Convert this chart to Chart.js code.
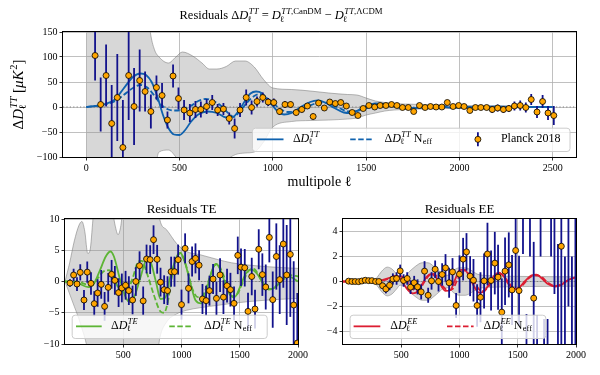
<!DOCTYPE html>
<html>
<head>
<meta charset="utf-8">
<script src="https://cdn.jsdelivr.net/npm/chart.js@4"></script>
<style>
  html, body { margin: 0; background: #fff; }
  #wrap { position: relative; width: 600px; height: 375px; overflow: hidden; background: #fff; }
  canvas { position: absolute; }
</style>
</head>
<body>
<div id="wrap">
  <canvas id="tt" width="600" height="200" style="left:0;top:0"></canvas>
  <canvas id="te" width="330" height="175" style="left:0;top:200px"></canvas>
  <canvas id="ee" width="300" height="175" style="left:300px;top:200px"></canvas>
</div>
<script>
// ---- TT residuals (Planck 2018 bins) ----
const ttEll = [47, 77, 106, 136, 166, 196, 227, 256, 286, 315, 346, 376, 406, 435, 465, 494, 524, 555, 585, 614,
  645, 675, 704, 735, 766, 795, 824, 857, 886, 915, 946, 975, 1005, 1036, 1065, 1095, 1125, 1155, 1185, 1216,
  1245, 1276, 1305, 1335, 1364, 1394, 1425, 1456, 1484, 1515, 1546, 1575, 1606, 1636, 1665, 1695, 1726, 1755, 1786, 1816,
  1845, 1875, 1906, 1935, 1966, 1996, 2025, 2056, 2086, 2115, 2146, 2176, 2205, 2236, 2265, 2295, 2326, 2356, 2385, 2416,
  2446, 2475, 2506];
const ttVal = [103, 5, 63, -33, 19, -81, 63, 1, 53, 31, -9, 39, 23, -26, 62, 17, -6, -12, -5, -5,
  1, 9, -6, -4, -23, -43, -6, 19, -1, 11, 19, 10, 9, -9, 5, 5, -11, -5, 2, -19,
  8, -2, 10, 7, 9, 2, -11, -17, -3, 3, 0, 3, 3, 5, 3, -1, -1, -9, 3, -1,
  1, 0, 0, 9, 1, 3, 1, -7, -1, -1, -1, -5, -2, -5, -3, 2, 3, -1, 15, -10,
  11, -12, -17];
const ttErr = [50, 54, 62, 77, 87, 95, 89, 77, 62, 40, 34, 24, 25, 17, 23, 22, 20, 18, 17, 16,
  15, 15, 12, 12, 12, 20, 14, 16, 14, 10, 10, 8, 8, 7, 7, 6, 6, 6, 5, 6,
  5, 5, 5, 5, 5, 5, 5, 5, 5, 5, 4, 4, 4, 4, 4, 4, 4, 4, 4, 4,
  4, 4, 4, 4, 4, 4, 4, 5, 5, 5, 5, 7, 7, 7, 7, 9, 10, 10, 11, 12,
  13, 14, 19];

const ttCurveEll = [0, 50, 100, 150, 200, 250, 290, 320, 350, 380, 410, 440, 470, 500, 530, 560, 600, 650, 700, 750,
  790, 820, 850, 880, 910, 940, 970, 1000, 1030, 1060, 1100, 1150, 1200, 1240, 1280, 1330, 1380, 1420, 1460, 1500,
  1550, 1600, 1650, 1700, 1750, 1800, 1850, 1900, 1950, 2000, 2100, 2200, 2300, 2400, 2500];
const ttSolid = [0, 2, 6, 14, 37, 60, 67, 64, 50, 22, -15, -42, -55, -56, -46, -30, -15, -9, -12, -21,
  -19, -6, 12, 27, 31, 28, 15, 2, -10, -15, -12, 0, 10, 13, 9, -2, -11, -12, -6, 2,
  7, 6, 1, -3, -3, 0, 2, 1, -1, -1, 0, 1, 0, 0, 0];
const ttDashEll = [0, 50, 100, 150, 200, 250, 290, 330, 370, 400, 440, 480, 520, 560, 600, 640, 680, 720, 760, 790,
  820, 860, 900, 930, 960, 1000, 1040, 1080, 1120, 1170, 1220, 1270, 1310, 1360, 1410, 1450, 1500, 1550, 1600, 1650,
  1700, 1750, 1800, 1850, 1900, 2000, 2100, 2200, 2300, 2400, 2500];
const ttDashed = [0, 2, 5, 11, 24, 38, 44, 38, 20, 5, -5, -7, -5, 2, 12, 16, 12, 3, -12, -20,
  -10, 8, 22, 26, 20, 8, -4, -10, -9, -2, 6, 9, 6, -3, -9, -8, -3, 3, 5, 3,
  0, -2, -1, 1, 1, 0, 0, 0, 0, 0, 0];

const ttBandEll = [0, 300, 343, 365, 390, 440, 480, 515, 570, 620, 660, 700, 750, 800, 850, 900, 950, 1000, 1100, 1200,
  1300, 1400, 1450, 1500, 1550, 1600, 1650, 1700, 1800, 1900, 2000, 2200, 2400, 2500];
const ttBandUp = [400, 300, 150, 115, 100, 88, 100, 110, 102, 88, 76, 76, 81, 92, 92, 80, 55, 38, 35, 32,
  28, 25, 24, 18, 12, 9, 7, 6, 5, 4, 3, 2, 1, 0.5];
const ttBandLo = [-400, -400, -300, -150, -90, -86, -100, -120, -125, -120, -115, -112, -105, -95, -92, -90, -70, -40, -29, -27,
  -26, -24, -22, -16, -12, -8, -6, -5, -4, -3, -3, -2, -1, -0.5];

// ---- TE residuals ----
const teEll = [43, 74, 103, 131, 163, 191, 223, 251, 280, 311, 340, 371, 400, 428, 460, 488, 520, 548, 580, 608,
  640, 671, 700, 731, 760, 791, 820, 851, 880, 911, 940, 971, 1000, 1031, 1060, 1091, 1120, 1151, 1180, 1211,
  1240, 1271, 1300, 1331, 1360, 1391, 1420, 1451, 1483, 1511, 1543, 1571, 1603, 1631, 1663, 1694, 1723, 1754, 1783, 1814,
  1843, 1874, 1903, 1934, 1963, 1994];
const teVal = [-0.25, 1.04, -0.4, 1.46, -2.96, 1.5, -0.3, -3.55, -1.84, -0.46, -3.98, -0.94, 1.15, 0.18, -1.78, -1.03, -0.6, -1.46, -2.96, 0.0,
  2.53, -3.1, 3.6, 3.5, 6.69, 3.55, -0.1, -1.31, -1.46, 1.57, 1.57, 3.5, -3.7, 5.3, -1.09, 3.2, 3.7, 2.6, -2.8, -3.06,
  -1.46, 0.4, -2.7, 1.04, -2.5, -0.67, -1.31, -3.5, 4.18, 2.3, 2.2, -4.78, 0.8, -4.4, 5.16, 1.1, -0.88, 7.06, -2.9, 4.0,
  0.3, 6.0, 1.04, 4.34, -3.76, -9.85];
const teErr = [0.6, 1.0, 1.1, 1.3, 1.6, 1.7, 1.8, 2.0, 2.2, 2.3, 2.3, 2.3, 2.3, 2.3, 2.3, 2.3, 2.3, 2.3, 2.3, 2.3,
  2.3, 2.3, 2.3, 2.3, 2.3, 2.3, 2.3, 2.3, 2.3, 2.4, 2.4, 2.4, 2.4, 2.4, 2.4, 2.4, 2.4, 2.4, 2.4, 2.4,
  2.4, 2.4, 2.7, 2.7, 2.7, 2.7, 2.7, 2.7, 3.0, 3.0, 3.0, 3.0, 3.0, 3.1, 3.2, 3.4, 3.6, 4.0, 4.5, 5.3,
  5.5, 7, 8, 10, 7, 8];

const teCurveEll = [0, 100, 200, 250, 300, 350, 390, 420, 470, 520, 560, 600, 650, 700, 730, 780, 820, 860, 900, 950,
  990, 1030, 1080, 1120, 1170, 1220, 1270, 1300, 1330, 1380, 1420, 1460, 1500, 1550, 1600, 1650, 1700, 1750, 1800, 1850,
  1900, 1950, 2000];
const teSolid = [0, -0.2, -0.9, -0.3, 1.8, 4, 4.8, 4, 0.5, -2.5, -3.3, -2.2, 0.8, 3.5, 3.3, 0, -2.8, -2.6, 0.5, 3.5,
  4.6, 3, -0.5, -3, -3.5, -1, 2.2, 2.8, 2.0, -0.5, -2.2, -2.4, -1, 1.2, 1.9, 1.2, -0.3, -1.3, -1, 0,
  0.8, 0.6, 0];
const teDashEll = [0, 100, 200, 280, 330, 380, 430, 480, 530, 580, 630, 660, 700, 760, 820, 850, 880, 920, 960, 990,
  1040, 1090, 1140, 1180, 1230, 1280, 1310, 1350, 1400, 1440, 1480, 1530, 1580, 1620, 1670, 1720, 1770, 1820, 1880, 1940,
  2000];
const teDashed = [0, 0, -0.5, 0.5, 1.6, 1.8, 0, -1.5, -1.5, 0.5, 3.2, 3.3, 1.5, -2, -4.8, -5, -3.5, 1, 4, 4.5,
  2.5, -1, -2.5, -2.3, 0, 2.5, 2.8, 1.5, -1, -2.5, -2, 0, 1.8, 2, 0.8, -0.8, -1.2, -0.6, 0.4, 1,
  0.8];

const teBandEll = [0, 40, 80, 120, 145, 170, 195, 215, 240, 260, 340, 400, 430, 455, 480, 510, 790, 814, 871, 957,
  1043, 1157, 1314, 1428, 1714, 2000];
const teBandUp = [0, 3, 6.5, 9, 9.6, 8, 4.5, 5, 10, 14, 14, 12, 9, 7.5, 9, 14, 14, 9.9, 8.3, 6.1,
  4.8, 4.3, 3.5, 3.0, 2.4, 2.1];
const teBandLo = [0, -2, -4, -6, -7.5, -9, -11, -13, -14, -14, -14, -14, -14, -14, -14, -14, -12, -9, -6.5, -5.2,
  -4.6, -4.2, -3.8, -3.5, -3.0, -2.7];

// ---- EE residuals ----
const eeEll = [48, 77, 105, 134, 162, 191, 220, 248, 280, 308, 340, 368, 400, 428, 460, 491, 520, 551, 580, 611,
  640, 671, 700, 731, 760, 791, 820, 851, 880, 911, 940, 971, 1000, 1031, 1060, 1091, 1120, 1151, 1180, 1211,
  1240, 1271, 1303, 1331, 1363, 1391, 1423, 1451, 1482, 1511, 1545, 1575, 1605, 1637, 1666, 1696, 1726, 1756, 1786, 1815,
  1845, 1874, 1905, 1935, 1965, 1995];
const eeVal = [0.03, 0, 0, -0.01, 0.04, 0.1, 0.07, 0.07, 0, 0, -0.34, -0.6, -0.3, 0.2, 0.24, 0.85, 0.08, 0.24, -0.45, -0.1,
  -0.43, -0.83, 0.83, -1.1, 0.05, 0.98, 0, 0.56, 1.09, -0.1, 0.77, -1.92, 0.59, 1.79, 2.37, 0.43, 0.1, -1.92, -1.26, 0.05,
  2.2, 0.08, 1.47, 0.35, -2.45, 0.83, 1.33, -0.67, 2.48, -0.73, 5.6, -6.2, 6.0, -1.33, -7.5, 7.0, -8.5, -9.0, 8.5, 7.0,
  -6.0, 2.82, -8.0, 9.0, -10, 7.0];
const eeErr = [0.03, 0.03, 0.04, 0.04, 0.05, 0.05, 0.06, 0.08, 0.1, 0.15, 0.25, 0.35, 0.4, 0.45, 0.5, 0.5, 0.5, 0.5, 0.55, 0.55,
  0.6, 0.6, 0.8, 0.6, 0.7, 0.7, 0.8, 0.9, 1.1, 1.2, 1.1, 1.0, 1.5, 1.7, 1.5, 1.6, 1.7, 1.7, 2.0, 2.2,
  2.5, 2.4, 2.5, 2.6, 2.7, 2.7, 2.6, 2.8, 3.0, 2.8, 3.4, 3.6, 4.0, 4.5, 4.8, 5.0, 5.5, 6.0, 6.5, 8.0,
  9.0, 8.0, 10, 11, 12, 13];

const eeCurveEll = [0, 300, 350, 400, 450, 480, 520, 560, 600, 640, 680, 720, 760, 800, 840, 880, 920, 960, 1000, 1040,
  1080, 1120, 1170, 1210, 1260, 1300, 1340, 1380, 1420, 1470, 1510, 1560, 1620, 1660, 1700, 1760, 1820, 1870, 1930, 2000];
const eeSolid = [0, 0, 0.15, 0.3, 0.45, 0.35, -0.2, -0.7, -0.95, -0.8, -0.2, 0.4, 0.6, 0.3, -0.3, -0.75, -0.7, 0.1, 0.9, 0.95,
  0.5, -0.3, -0.9, -0.8, -0.1, 0.5, 0.7, 0.4, -0.2, -0.6, -0.5, 0, 0.5, 0.55, 0.3, -0.2, -0.4, -0.3, 0.1, 0.35];
const eeDashEll = [0, 300, 350, 400, 450, 500, 540, 580, 620, 660, 700, 740, 780, 820, 860, 900, 940, 980, 1020, 1060,
  1100, 1150, 1190, 1230, 1280, 1320, 1360, 1400, 1450, 1490, 1540, 1600, 1650, 1700, 1760, 1820, 1880, 1940, 2000];
const eeDashed = [0, 0, 0.1, 0.25, 0.4, 0.4, 0.1, -0.4, -0.7, -0.6, 0, 0.5, 0.6, 0.2, -0.4, -0.7, -0.6, 0.1, 0.8, 0.9,
  0.4, -0.4, -0.8, -0.6, 0, 0.5, 0.6, 0.2, -0.4, -0.6, -0.3, 0.3, 0.5, 0.4, -0.1, -0.35, -0.2, 0.15, 0.35];

const eeBandEll = [0, 250, 290, 330, 380, 420, 460, 490, 520, 560, 620, 680, 730, 780, 830, 870, 900, 950, 1000, 1050,
  1100, 1150, 1200, 1300, 1400, 1600, 2000];
const eeBandHalf = [0, 0.02, 0.3, 0.8, 1.15, 1.0, 0.6, 0.3, 0.3, 0.7, 1.2, 1.5, 1.5, 1.2, 0.8, 0.5, 0.5, 0.9, 1.1, 1.1,
  0.9, 0.6, 0.5, 0.45, 0.42, 0.4, 0.38];

// tick positions
const ttXTicks = [0, 500, 1000, 1500, 2000, 2500];
const ttYTicks = [-100, -50, 0, 50, 100, 150];
const lowXTicks = [500, 1000, 1500, 2000];
const teYTicks = [-10, -5, 0, 5, 10];
const eeYTicks = [-4, -2, 0, 2, 4];

const SERIF = '"Liberation Serif", "DejaVu Serif", serif';
const BLUE = '#0f62ae';
const GREEN = '#5db535';
const RED = '#dc1e32';
const BAR = '#12128c';
const ORANGE = '#ffa500';
const BAND = 'rgba(150,150,150,0.38)';
const BAND_EDGE = 'rgba(110,110,110,0.55)';
const DASH = [5.5, 2.5];

const pts = (xs, ys) => xs.map((x, i) => ({ x: x, y: ys[i] }));
const minus = v => String(v).replace('-', '\u2212');
const font = (size, italic) => (italic ? 'italic ' : '') + size + 'px ' + SERIF;

// small math-text helper: parts like {t:'D', i:true, sub:[['ℓ']], sup:[['TT', true]]}
function runsWidth(ctx, runs, size) {
  let w = 0;
  runs.forEach(r => { ctx.font = font(size, r[1]); w += ctx.measureText(r[0]).width; });
  return w;
}
function partWidth(ctx, p, size) {
  ctx.font = font(size, p.i);
  const w = ctx.measureText(p.t).width;
  const s = size * 0.7;
  const ws = Math.max(p.sub ? runsWidth(ctx, p.sub, s) : 0, p.sup ? runsWidth(ctx, p.sup, s) : 0);
  return w + ws + (ws ? size * 0.04 : 0);
}
function drawRuns(ctx, runs, x, y, size) {
  runs.forEach(r => {
    ctx.font = font(size, r[1]);
    ctx.fillText(r[0], x, y);
    x += ctx.measureText(r[0]).width;
  });
}
function drawMath(ctx, parts, x, y, size, align) {
  const total = parts.reduce((w, p) => w + partWidth(ctx, p, size), 0);
  if (align === 'center') x -= total / 2;
  ctx.textAlign = 'left';
  ctx.textBaseline = 'alphabetic';
  ctx.fillStyle = '#000';
  parts.forEach(p => {
    ctx.font = font(size, p.i);
    ctx.fillText(p.t, x, y);
    const xs = x + ctx.measureText(p.t).width + size * 0.04;
    const s = size * 0.7;
    if (p.sub) drawRuns(ctx, p.sub, xs - (p.i ? size * 0.1 : 0), y + size * 0.22, s);
    if (p.sup) drawRuns(ctx, p.sup, xs, y - size * 0.42, s);
    x += partWidth(ctx, p, size);
  });
}

const dl = sup => ({ t: 'D', i: true, sub: [['\u2113', false]], sup: sup });
const ttLabel = [{ t: '\u0394' }, dl([['TT', true]])];
const teLabel = [{ t: '\u0394' }, dl([['TE', true]])];
const eeLabel = [{ t: '\u0394' }, dl([['EE', true]])];
const withNeff = parts => parts.concat([{ t: ' N', sub: [['eff', false]] }]);

// error bars drawn through the y scale, just before the points
const errorBars = {
  id: 'errorBars',
  beforeDatasetDraw(chart, args) {
    const ds = chart.data.datasets[args.index];
    if (!ds.errors) return;
    const { ctx, chartArea: a } = chart;
    const ys = chart.scales.y;
    ctx.save();
    ctx.beginPath();
    ctx.rect(a.left, a.top, a.right - a.left, a.bottom - a.top);
    ctx.clip();
    ctx.strokeStyle = BAR;
    ctx.lineWidth = 1.8;
    args.meta.data.forEach((pt, i) => {
      const v = ds.data[i].y, e = ds.errors[i];
      ctx.beginPath();
      ctx.moveTo(pt.x, ys.getPixelForValue(v + e));
      ctx.lineTo(pt.x, ys.getPixelForValue(v - e));
      ctx.stroke();
    });
    ctx.restore();
  }
};
Chart.register(errorBars);

function drawLegend(ctx, a, lg) {
  const left = lg.fromLeft ? a.left + lg.gap : a.right - lg.gap - lg.w;
  const top = a.bottom - 6 - lg.h;
  const cy = top + lg.h / 2;
  ctx.save();
  ctx.fillStyle = 'rgba(255,255,255,0.8)';
  ctx.strokeStyle = '#cccccc';
  ctx.lineWidth = 1;
  ctx.beginPath();
  ctx.roundRect(left + 0.5, top + 0.5, lg.w, lg.h, 3);
  ctx.fill();
  ctx.stroke();
  lg.items.forEach(it => {
    if (it.kind === 'line') {
      ctx.strokeStyle = it.color;
      ctx.lineWidth = 1.8;
      ctx.setLineDash(it.dash || []);
      ctx.beginPath();
      ctx.moveTo(left + it.x0, cy);
      ctx.lineTo(left + it.x1, cy);
      ctx.stroke();
      ctx.setLineDash([]);
    } else {
      ctx.strokeStyle = BAR;
      ctx.lineWidth = 1.8;
      ctx.beginPath();
      ctx.moveTo(left + it.x0, cy - 7);
      ctx.lineTo(left + it.x0, cy + 7);
      ctx.stroke();
      ctx.fillStyle = ORANGE;
      ctx.strokeStyle = '#000';
      ctx.lineWidth = 0.8;
      ctx.beginPath();
      ctx.arc(left + it.x0, cy, 3, 0, Math.PI * 2);
      ctx.fill();
      ctx.stroke();
    }
    drawMath(ctx, it.label, left + it.tx, cy + 2.5, 12, 'left');
  });
  ctx.restore();
}

function makePanel(id, p) {
  const deco = {
    id: 'deco',
    afterDraw(chart) {
      const { ctx, chartArea: a } = chart;
      ctx.save();
      ctx.strokeStyle = '#000';
      ctx.lineWidth = 1;
      ctx.strokeRect(Math.round(a.left) - 0.5, Math.round(a.top) - 0.5,
        Math.round(a.right - a.left) + 1, Math.round(a.bottom - a.top) + 1);
      drawLegend(ctx, a, p.legend);
      p.texts.forEach(t => {
        if (t.rotate) {
          ctx.save();
          ctx.translate(t.x, t.y);
          ctx.rotate(-Math.PI / 2);
          drawMath(ctx, t.parts, 0, 0, t.size, 'center');
          ctx.restore();
        } else {
          const x = t.x === 'mid' ? (a.left + a.right) / 2 : t.x;
          drawMath(ctx, t.parts, x, t.y, t.size, 'center');
        }
      });
      ctx.restore();
    }
  };
  const line = (xs, ys, dash, order) => ({
    data: pts(xs, ys), borderColor: p.color, borderWidth: 1.8, borderDash: dash,
    pointRadius: 0, cubicInterpolationMode: 'monotone', fill: false, order: order
  });
  const tickFont = { family: SERIF, size: 10 };
  const grid = { color: '#b0b0b0', lineWidth: 0.8, tickLength: 3.5, tickColor: '#000', tickWidth: 0.8 };
  new Chart(document.getElementById(id), {
    type: 'line',
    data: {
      datasets: [
        {
          type: 'scatter', data: pts(p.ell, p.val), errors: p.err,
          pointRadius: 3, pointBackgroundColor: ORANGE, pointBorderColor: '#000', pointBorderWidth: 0.8,
          showLine: false, order: 0
        },
        line(p.curveX, p.solid, [], 1),
        line(p.dashX, p.dashed, DASH, 2),
        {
          data: [{ x: p.xmin, y: 0 }, { x: p.xmax, y: 0 }], borderColor: 'gray', borderWidth: 1.2,
          borderDash: [1.2, 2.2], pointRadius: 0, fill: false, order: 3
        },
        {
          data: pts(p.bandX, p.bandUp), fill: '+1', backgroundColor: BAND, borderColor: BAND_EDGE,
          borderWidth: 0.9, pointRadius: 0, cubicInterpolationMode: 'monotone', order: 4
        },
        {
          data: pts(p.bandX, p.bandLo), fill: false, borderColor: BAND_EDGE,
          borderWidth: 0.9, pointRadius: 0, cubicInterpolationMode: 'monotone', order: 5
        }
      ]
    },
    options: {
      responsive: false,
      animation: false,
      devicePixelRatio: 1,
      events: [],
      layout: { padding: p.padding },
      plugins: { legend: { display: false }, tooltip: { enabled: false } },
      scales: {
        x: {
          type: 'linear', min: p.xmin, max: p.xmax,
          afterBuildTicks: s => { s.ticks = p.xticks.map(v => ({ value: v })); },
          afterFit: s => { s.height = p.xh; },
          ticks: { autoSkip: false, maxRotation: 0, padding: 2, color: '#000', font: tickFont, callback: v => minus(v) },
          grid: grid,
          border: { display: false }
        },
        y: {
          type: 'linear', min: p.ymin, max: p.ymax,
          afterBuildTicks: s => { s.ticks = p.yticks.map(v => ({ value: v })); },
          afterFit: s => { s.width = p.yw; },
          ticks: { autoSkip: false, padding: 2, color: '#000', font: tickFont, callback: v => minus(v) },
          grid: grid,
          border: { display: false }
        }
      }
    },
    plugins: [deco]
  });
}

makePanel('tt', {
  ell: ttEll, val: ttVal, err: ttErr,
  curveX: ttCurveEll, solid: ttSolid, dashX: ttDashEll, dashed: ttDashed,
  bandX: ttBandEll, bandUp: ttBandUp, bandLo: ttBandLo,
  color: BLUE, xmin: -125, xmax: 2625, ymin: -100, ymax: 150,
  xticks: ttXTicks, yticks: ttYTicks,
  padding: { top: 32, right: 24, left: 0, bottom: 0 }, xh: 43, yw: 63,
  legend: {
    fromLeft: false, gap: 6.5, w: 317.6, h: 23.3,
    items: [
      { kind: 'line', color: BLUE, x0: 5, x1: 31.6, tx: 41, label: ttLabel },
      { kind: 'line', color: BLUE, dash: DASH, x0: 98.3, x1: 121.6, tx: 132.6, label: withNeff(ttLabel) },
      { kind: 'err', x0: 226, tx: 249, label: [{ t: 'Planck 2018' }] }
    ]
  },
  texts: [
    {
      x: 281, y: 19, size: 12.5, parts: [
        { t: 'Residuals \u0394' }, dl([['TT', true]]), { t: ' = ' },
        dl([['TT', true], [',CanDM', false]]), { t: ' \u2212 ' },
        dl([['TT', true], [',\u039BCDM', false]])
      ]
    },
    { x: 'mid', y: 186, size: 14, parts: [{ t: 'multipole ' }, { t: '\u2113' }] },
    {
      rotate: true, x: 23, y: 94.5, size: 15, parts: ttLabel.concat([
        { t: ' [' }, { t: '\u03BCK', i: true, sup: [['2', false]] }, { t: ']' }])
    }
  ]
});

makePanel('te', {
  ell: teEll, val: teVal, err: teErr,
  curveX: teCurveEll, solid: teSolid, dashX: teDashEll, dashed: teDashed,
  bandX: teBandEll, bandUp: teBandUp, bandLo: teBandLo,
  color: GREEN, xmin: 0, xmax: 2000, ymin: -10, ymax: 10,
  xticks: lowXTicks, yticks: teYTicks,
  padding: { top: 19, right: 32, left: 0, bottom: 0 }, xh: 31, yw: 65,
  legend: {
    fromLeft: true, gap: 6.7, w: 195, h: 23.3,
    items: [
      { kind: 'line', color: GREEN, x0: 4.3, x1: 30, tx: 39.3, label: teLabel },
      { kind: 'line', color: GREEN, dash: DASH, x0: 97.6, x1: 121.6, tx: 132.3, label: withNeff(teLabel) }
    ]
  },
  texts: [{ x: 'mid', y: 13, size: 13, parts: [{ t: 'Residuals TE' }] }]
});

makePanel('ee', {
  ell: eeEll, val: eeVal, err: eeErr,
  curveX: eeCurveEll, solid: eeSolid, dashX: eeDashEll, dashed: eeDashed,
  bandX: eeBandEll, bandUp: eeBandHalf, bandLo: eeBandHalf.map(v => -v),
  color: RED, xmin: 0, xmax: 2000, ymin: -5, ymax: 5,
  xticks: lowXTicks, yticks: eeYTicks,
  padding: { top: 19, right: 24, left: 0, bottom: 0 }, xh: 31, yw: 43,
  legend: {
    fromLeft: true, gap: 6.6, w: 195.7, h: 23.3,
    items: [
      { kind: 'line', color: RED, x0: 4, x1: 30.7, tx: 40.7, label: eeLabel },
      { kind: 'line', color: RED, dash: DASH, x0: 97.4, x1: 124, tx: 134, label: withNeff(eeLabel) }
    ]
  },
  texts: [{ x: 'mid', y: 13, size: 13, parts: [{ t: 'Residuals EE' }] }]
});
</script>
</body>
</html>
